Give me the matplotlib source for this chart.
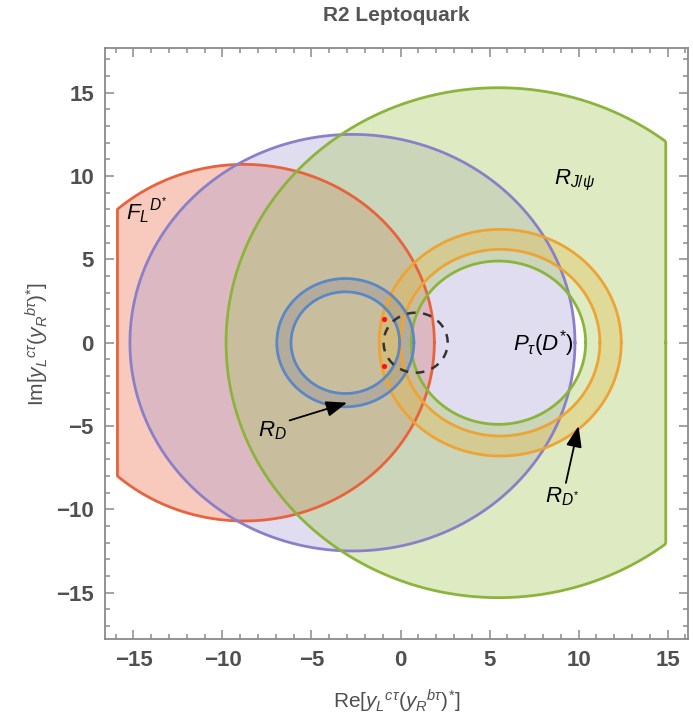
import numpy as np
import matplotlib
matplotlib.use("Agg")
import matplotlib.pyplot as plt
from matplotlib.path import Path
from matplotlib.patches import PathPatch

plt.rcParams["font.family"] = ["Liberation Sans", "DejaVu Sans"]
plt.rcParams["mathtext.fontset"] = "custom"
plt.rcParams["mathtext.rm"] = "Liberation Sans"
plt.rcParams["mathtext.it"] = "Liberation Sans:italic"
plt.rcParams["mathtext.bf"] = "Liberation Sans:bold"

# ---- constraint regions in the complex coupling plane ----
# F_L(D*) disc, clipped to the scanned range
fl_center = (-8.8, 0.0)
fl_radius = 10.7
# purple disc
pu_center = (-2.7, 0.0)
pu_radius = 12.5
# R_J/psi annulus
rj_center = (5.5, 0.0)
rj_radii = [4.9, 15.3]
# R_D* annulus
rds_center = (5.6, 0.0)
rds_radii = [5.6, 6.8]
# R_D annulus
rd_center = (-3.1, 0.0)
rd_radii = [3.05, 3.85]
# dashed circle and benchmark points
dash_center = (0.85, 0.0)
dash_radius = 1.8
points_x = [-0.9, -0.9]
points_y = [1.4, -1.4]

scan_range = (-15.9, 14.9)

xticks = [-15, -10, -5, 0, 5, 10, 15]
yticks = [-15, -10, -5, 0, 5, 10, 15]


def circle_xy(center, r, clip=None, n=600):
    t = np.linspace(0, 2 * np.pi, n)
    x = center[0] + r * np.cos(t)
    y = center[1] + r * np.sin(t)
    if clip is not None:
        x = np.clip(x, clip[0], clip[1])
    return x, y


def ring_path(center, r_in, r_out, clip=None):
    xo, yo = circle_xy(center, r_out, clip)
    xi, yi = circle_xy(center, r_in, clip)
    verts = np.concatenate([np.column_stack([xo, yo]),
                            np.column_stack([xi[::-1], yi[::-1]])])
    n = len(xo)
    codes = np.full(2 * n, Path.LINETO)
    codes[0] = Path.MOVETO
    codes[n] = Path.MOVETO
    return Path(verts, codes)


fig = plt.figure(figsize=(6.93, 7.21), dpi=100)
ax = fig.add_axes([0.1515, 0.1133, 0.8413, 0.8205])

red_edge, red_face = "#e8633d", "#f08a70"
pur_edge, pur_face = "#8b80c8", "#9c8fd0"
grn_edge, grn_face = "#8cb43c", "#a8c860"
org_edge, org_face = "#eda335", "#e6b53a"
blu_edge, blu_face = "#5b87c4", "#6a6f9a"

# fills
x, y = circle_xy(fl_center, fl_radius, scan_range)
ax.fill(x, y, color=red_face, alpha=0.45, lw=0, zorder=1)
x, y = circle_xy(pu_center, pu_radius)
ax.fill(x, y, color=pur_face, alpha=0.30, lw=0, zorder=2)
ax.add_patch(PathPatch(ring_path(rj_center, rj_radii[0], rj_radii[1], scan_range),
                       facecolor=grn_face, alpha=0.38, lw=0, zorder=3))
ax.add_patch(PathPatch(ring_path(rds_center, rds_radii[0], rds_radii[1]),
                       facecolor=org_face, alpha=0.30, lw=0, zorder=4))
ax.add_patch(PathPatch(ring_path(rd_center, rd_radii[0], rd_radii[1]),
                       facecolor=blu_face, alpha=0.22, lw=0, zorder=5))

# boundaries
lw = 2.0
x, y = circle_xy(fl_center, fl_radius, scan_range)
ax.plot(x, y, color=red_edge, lw=lw, zorder=6)
x, y = circle_xy(pu_center, pu_radius)
ax.plot(x, y, color=pur_edge, lw=lw, zorder=6)
x, y = circle_xy(rj_center, rj_radii[1], scan_range)
ax.plot(x, y, color=grn_edge, lw=lw, zorder=6)
x, y = circle_xy(rj_center, rj_radii[0])
ax.plot(x, y, color=grn_edge, lw=lw, zorder=6)
for r in rds_radii:
    x, y = circle_xy(rds_center, r)
    ax.plot(x, y, color=org_edge, lw=lw, zorder=7)
for r in rd_radii:
    x, y = circle_xy(rd_center, r)
    ax.plot(x, y, color=blu_edge, lw=lw, zorder=7)

x, y = circle_xy(dash_center, dash_radius)
ax.plot(x, y, color="#333333", lw=1.8, ls=(0, (3.5, 3)), zorder=8)
ax.scatter(points_x, points_y, s=14, color="#ff1010", zorder=9, lw=0)

# labels
fs = 16
ax.text(-15.4, 7.4, r"$F_L{}^{D^{*}}$", fontsize=fs, zorder=10)
ax.text(8.6, 9.5, r"$R_{J/\psi}$", fontsize=fs, zorder=10)
ax.text(6.3, -0.05, r"$P_\tau(D^{*})$", fontsize=fs, va="center", zorder=10)
ax.annotate(r"$R_D$", xy=(-3.0, -3.6), xytext=(-8.0, -5.6), fontsize=fs,
            zorder=10,
            arrowprops=dict(arrowstyle="-|>,head_length=0.8,head_width=0.3",
                            color="black", lw=1.3, shrinkA=0, shrinkB=0,
                            relpos=(1.0, 0.9)))
ax.annotate(r"$R_{D^{*}}$", xy=(10.0, -5.0), xytext=(8.1, -9.6), fontsize=fs,
            zorder=10,
            arrowprops=dict(arrowstyle="-|>,head_length=0.8,head_width=0.3",
                            color="black", lw=1.3, shrinkA=0, shrinkB=0,
                            relpos=(0.6, 1.0)))

# frame
ax.set_xlim(-16.6, 16.15)
ax.set_ylim(-17.8, 17.7)
frame_col = "#8a8a8a"
for s in ax.spines.values():
    s.set_color(frame_col)
    s.set_linewidth(1.3)
ax.set_xticks(xticks)
ax.set_yticks(yticks)
ax.set_xticks(np.arange(-16, 17, 1), minor=True)
ax.set_yticks(np.arange(-17, 18, 1), minor=True)
ax.set_xticklabels([f"\u2212{-v}" if v < 0 else str(v) for v in xticks])
ax.set_yticklabels([f"\u2212{-v}" if v < 0 else str(v) for v in yticks])
ax.tick_params(which="both", direction="in", color=frame_col, width=1.1,
               top=True, right=True, labelcolor="#505050", labelsize=16)
ax.tick_params(which="major", length=6.3, pad=8)
ax.tick_params(which="minor", length=3.6)
for lab in ax.get_xticklabels() + ax.get_yticklabels():
    lab.set_fontweight("bold")

ax.set_xlabel(r"Re$[y_L{}^{c\tau}(y_R{}^{b\tau})^{*}]$", fontsize=15,
              color="#505050", labelpad=12)
ax.set_ylabel(r"Im$[y_L{}^{c\tau}(y_R{}^{b\tau})^{*}]$", fontsize=15,
              color="#505050", labelpad=4)
ax.set_title("R2 Leptoquark", fontsize=15, fontweight="bold",
             color="#555555", pad=19)

fig.savefig("out.png", dpi=100)
